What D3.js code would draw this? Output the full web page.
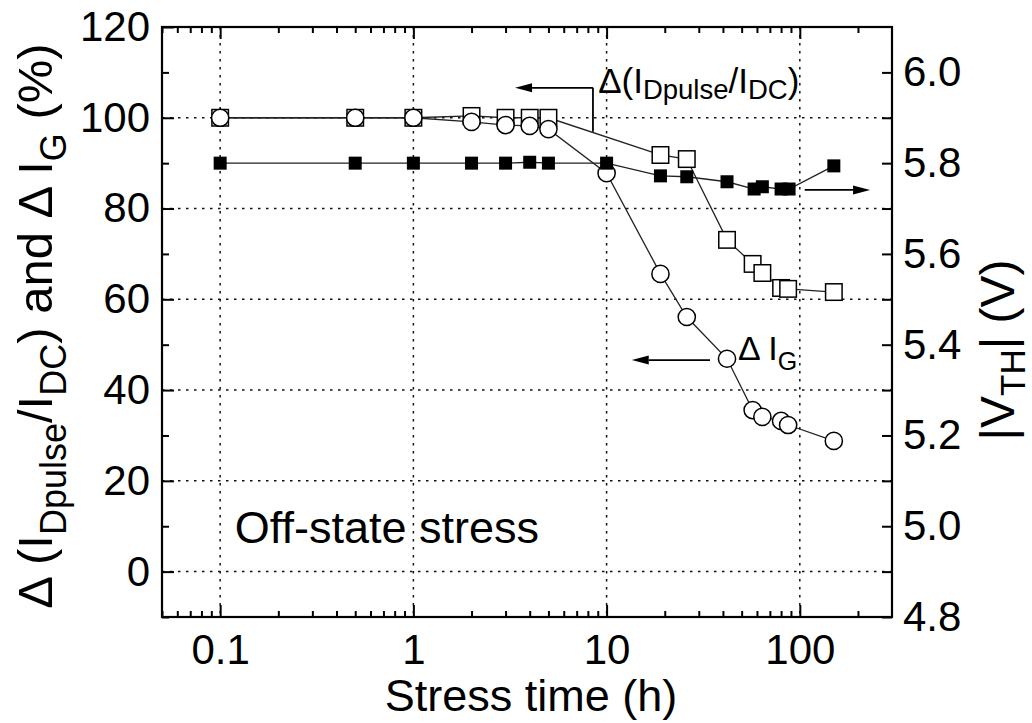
<!DOCTYPE html>
<html>
<head>
<meta charset="utf-8">
<script src="https://cdn.jsdelivr.net/npm/d3@7"></script>
<style>
  body { margin: 0; background: #fff; }
  text { font-family: "Liberation Sans", Arial, Helvetica, sans-serif; fill: #000; }
</style>
</head>
<body>
<svg id="chart" width="1032" height="723"></svg>
<script>
// ---------- data ----------
const timeIdRatio = [0.1, 0.5, 1, 2, 3, 4, 5, 19, 26, 42, 57, 64, 80, 87, 150];
const idRatio     = [100, 100, 100, 100.4, 100, 100, 100, 91.8, 90.9, 73.1, 67.8, 65.8, 62.5, 62.3, 61.6];

const timeIg = [0.1, 0.5, 1, 2, 3, 4, 5, 10, 19, 26, 42, 57, 64, 80, 87, 150];
const igVals = [100, 100, 100, 99.1, 98.4, 98.2, 97.5, 87.8, 65.6, 56.1, 46.9, 35.6, 34.1, 33.2, 32.3, 28.8];

const timeVth = [0.1, 0.5, 1, 2, 3, 4, 5, 10, 19, 26, 42, 58, 64, 80, 88, 150];
const vthVals = [5.80, 5.80, 5.80, 5.80, 5.80, 5.802, 5.80, 5.80, 5.772, 5.770, 5.759, 5.743, 5.748, 5.743, 5.743, 5.794];

const xMajorTicks = [0.1, 1, 10, 100];
const xTickLabels = ["0.1", "1", "10", "100"];
const xMinorTicks = [0.05, 0.06, 0.07, 0.08, 0.09, 0.2, 0.3, 0.4, 0.5, 0.6, 0.7, 0.8, 0.9,
                     2, 3, 4, 5, 6, 7, 8, 9, 20, 30, 40, 50, 60, 70, 80, 90, 200];
const yLeftMajor = [0, 20, 40, 60, 80, 100, 120];
const yLeftMinor = [-10, 10, 30, 50, 70, 90, 110];
const yLeftGrid  = [0, 20, 40, 60, 80, 100];
const yRightMajor = [4.8, 5.0, 5.2, 5.4, 5.6, 5.8, 6.0];
const yRightMinor = [4.9, 5.1, 5.3, 5.5, 5.7, 5.9];

// ---------- layout ----------
const svg = d3.select("#chart");
const L = 162, R = 892, T = 27, B = 617;

const x  = d3.scaleLog().domain([0.05, 300]).range([L, R]);
const yL = d3.scaleLinear().domain([-10, 120]).range([B, T]);
const yR = d3.scaleLinear().domain([4.8, 6.1]).range([B, T]);

// ---------- grid ----------
const grid = svg.append("g").attr("stroke", "#111").attr("stroke-width", 1.5)
  .attr("stroke-dasharray", "2.5,5.5");
grid.selectAll("line.gx").data(xMajorTicks).join("line")
  .attr("x1", d => x(d)).attr("x2", d => x(d)).attr("y1", T).attr("y2", B);
grid.selectAll("line.gy").data(yLeftGrid).join("line")
  .attr("x1", L).attr("x2", R).attr("y1", d => yL(d)).attr("y2", d => yL(d));

// ---------- axes ----------
function styleAxis(g, fontSize) {
  g.select(".domain").remove();
  g.selectAll(".tick line").attr("stroke", "#000").attr("stroke-width", 2);
  g.selectAll(".tick text").attr("font-size", fontSize)
    .attr("font-family", '"Liberation Sans", Arial, sans-serif').attr("fill", "#000");
}

const tickFont = 42;
// bottom
svg.append("g").attr("transform", `translate(0,${B})`)
  .call(d3.axisBottom(x).tickValues(xMajorTicks).tickSize(-12).tickPadding(17)
    .tickFormat((d, i) => xTickLabels[i]))
  .call(g => styleAxis(g, tickFont));
svg.append("g").attr("transform", `translate(0,${B})`)
  .call(d3.axisBottom(x).tickValues(xMinorTicks).tickSize(-6).tickFormat(""))
  .call(g => styleAxis(g, tickFont));
// top
svg.append("g").attr("transform", `translate(0,${T})`)
  .call(d3.axisTop(x).tickValues(xMajorTicks).tickSize(-12).tickFormat(""))
  .call(g => styleAxis(g, tickFont));
svg.append("g").attr("transform", `translate(0,${T})`)
  .call(d3.axisTop(x).tickValues(xMinorTicks).tickSize(-6).tickFormat(""))
  .call(g => styleAxis(g, tickFont));
// left
svg.append("g").attr("transform", `translate(${L},0)`)
  .call(d3.axisLeft(yL).tickValues(yLeftMajor).tickSize(-12).tickPadding(12).tickFormat(d3.format("d")))
  .call(g => styleAxis(g, tickFont));
svg.append("g").attr("transform", `translate(${L},0)`)
  .call(d3.axisLeft(yL).tickValues(yLeftMinor).tickSize(-7).tickFormat(""))
  .call(g => styleAxis(g, tickFont));
// right
svg.append("g").attr("transform", `translate(${R},0)`)
  .call(d3.axisRight(yR).tickValues(yRightMajor).tickSize(-10).tickPadding(11).tickFormat(d3.format(".1f")))
  .call(g => styleAxis(g, tickFont));
svg.append("g").attr("transform", `translate(${R},0)`)
  .call(d3.axisRight(yR).tickValues(yRightMinor).tickSize(-10).tickFormat(""))
  .call(g => styleAxis(g, tickFont));

// frame
svg.append("rect").attr("x", L).attr("y", T).attr("width", R - L).attr("height", B - T)
  .attr("fill", "none").attr("stroke", "#000").attr("stroke-width", 2.2);

// ---------- series ----------
const dId  = timeIdRatio.map((t, i) => ({ t, v: idRatio[i] }));
const dIg  = timeIg.map((t, i) => ({ t, v: igVals[i] }));
const dVth = timeVth.map((t, i) => ({ t, v: vthVals[i] }));

const lineL = d3.line().x(d => x(d.t)).y(d => yL(d.v));
const lineR = d3.line().x(d => x(d.t)).y(d => yR(d.v));

const lines = svg.append("g").attr("fill", "none").attr("stroke", "#222").attr("stroke-width", 1.3);
lines.append("path").attr("d", lineL(dId));
lines.append("path").attr("d", lineL(dIg));
lines.append("path").attr("d", lineR(dVth));

// open squares
const sq = 16.5;
svg.append("g").selectAll("rect").data(dId).join("rect")
  .attr("x", d => x(d.t) - sq / 2).attr("y", d => yL(d.v) - sq / 2)
  .attr("width", sq).attr("height", sq)
  .attr("fill", "#fff").attr("stroke", "#000").attr("stroke-width", 1.5);
// open circles
svg.append("g").selectAll("circle").data(dIg).join("circle")
  .attr("cx", d => x(d.t)).attr("cy", d => yL(d.v)).attr("r", 8.6)
  .attr("fill", "#fff").attr("stroke", "#000").attr("stroke-width", 1.5);
// filled squares
const fs = 13;
svg.append("g").selectAll("rect").data(dVth).join("rect")
  .attr("x", d => x(d.t) - fs / 2).attr("y", d => yR(d.v) - fs / 2)
  .attr("width", fs).attr("height", fs).attr("fill", "#000");

// ---------- annotations ----------
function arrow(x1, y1, x2, y2) {
  const g = svg.append("g");
  const ang = Math.atan2(y2 - y1, x2 - x1);
  const hl = 17, hw = 4.5;
  const bx = x2 - hl * Math.cos(ang), by = y2 - hl * Math.sin(ang);
  g.append("line").attr("x1", x1).attr("y1", y1).attr("x2", bx).attr("y2", by)
    .attr("stroke", "#000").attr("stroke-width", 1.8);
  const px = -Math.sin(ang) * hw, py = Math.cos(ang) * hw;
  g.append("path").attr("d", `M${x2},${y2}L${bx + px},${by + py}L${bx - px},${by - py}Z`)
    .attr("fill", "#000");
}

function rich(parts, size, subSize, shift) {
  const t = svg.append("text").attr("font-size", size);
  let cur = 0;
  parts.forEach(p => {
    const target = p.sub ? shift : 0;
    t.append("tspan").attr("font-size", p.sub ? subSize : size)
      .attr("dy", target - cur).text(p.t);
    cur = target;
  });
  return t;
}

// Δ(I_Dpulse/I_DC) with bent arrow
const aY = yL(106.6);
svg.append("line").attr("x1", x(8.5)).attr("x2", x(8.5)).attr("y1", aY).attr("y2", yL(96.9))
  .attr("stroke", "#000").attr("stroke-width", 1.8);
arrow(x(8.5), aY, x(3.36), aY);
rich([{ t: "Δ(I" }, { t: "Dpulse", sub: true }, { t: "/I" }, { t: "DC", sub: true }, { t: ")" }], 35, 27.5, 6)
  .attr("x", x(9.04)).attr("y", yL(105.5));

// VTH arrow (to the right axis)
arrow(x(106), yR(5.741), x(231), yR(5.741));

// Δ I_G
arrow(x(34.3), yL(46.6), x(13.5), yL(46.6));
rich([{ t: "Δ I" }, { t: "G", sub: true }], 34, 25, 10)
  .attr("x", x(47.9)).attr("y", yL(46.6));

// Off-state stress
svg.append("text").attr("x", x(0.119)).attr("y", yL(6.3)).attr("font-size", 45)
  .text("Off-state stress");

// ---------- axis titles ----------
svg.append("text").attr("x", (L + R) / 2 + 4).attr("y", 711).attr("text-anchor", "middle")
  .attr("font-size", 45).text("Stress time (h)");

rich([{ t: "Δ (I" }, { t: "Dpulse", sub: true }, { t: "/I" }, { t: "DC", sub: true },
      { t: ") and Δ I" }, { t: "G", sub: true }, { t: " (%)" }], 49, 36, 14)
  .attr("text-anchor", "middle")
  .attr("transform", `translate(52,${(T + B) / 2 + 4}) rotate(-90)`);

rich([{ t: "|V" }, { t: "TH", sub: true }, { t: "| (V)" }], 48, 35, 11)
  .attr("text-anchor", "middle")
  .attr("transform", `translate(1014,350) rotate(-90)`);
</script>
</body>
</html>
